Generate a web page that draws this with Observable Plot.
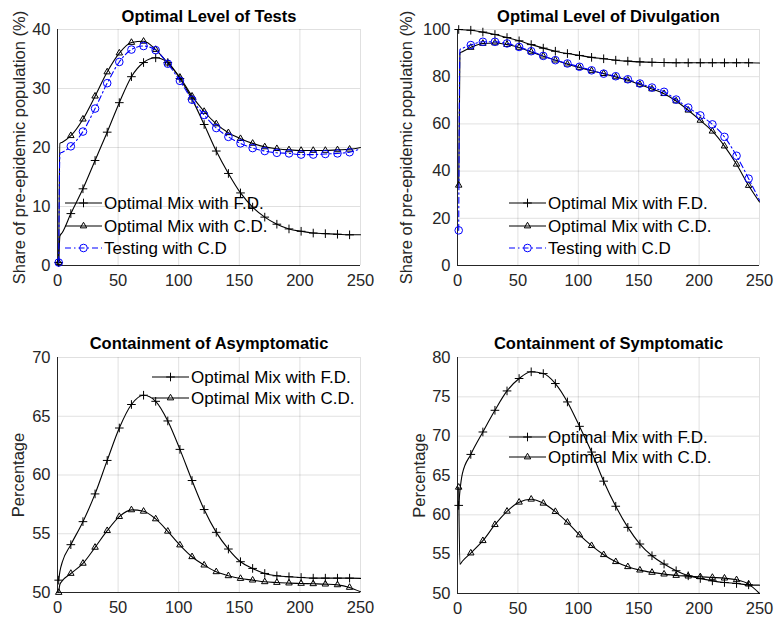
<!DOCTYPE html>
<html><head><meta charset="utf-8">
<script src="https://cdn.jsdelivr.net/npm/d3@7"></script>
<script src="https://cdn.jsdelivr.net/npm/@observablehq/plot@0.6"></script>
<style>
body{margin:0;background:#fff;}
#wrap{position:relative;width:774px;height:620px;font-family:"Liberation Sans",Arial,sans-serif;overflow:hidden;}
.panel{position:absolute;}
.row{position:absolute;white-space:nowrap;display:flex;align-items:center;height:20px;font-size:17px;color:#000;line-height:1;}
.row svg{display:block;overflow:visible;}
.row span{margin-left:2px;}
</style></head><body><div id="wrap"></div>
<script>
// ---- data ----
const lineDays = [1, 2, 4, 11, 21, 31, 41, 51, 61, 71, 81, 91, 101, 111, 121, 131, 141, 151, 161, 171, 181, 191, 201, 211, 221, 231, 241, 250];
const xTicks = [0, 50, 100, 150, 200, 250];

const testsFD = [0.5, 5.0, 5.6, 8.8, 13.0, 17.8, 22.6, 27.6, 32.0, 34.4, 35.2, 34.4, 31.7, 28.2, 23.9, 19.4, 15.6, 12.3, 9.9, 8.2, 7.0, 6.2, 5.8, 5.5, 5.4, 5.3, 5.2, 5.2];
const testsCD = [0.5, 20.7, 20.9, 22.0, 24.8, 28.7, 32.8, 36.0, 37.8, 38.0, 36.6, 34.3, 31.9, 28.7, 26.1, 24.0, 22.5, 21.5, 20.7, 20.1, 19.8, 19.6, 19.5, 19.5, 19.5, 19.6, 19.7, 20.0];
const testsT  = [0.5, 19.0, 19.2, 20.2, 22.7, 26.6, 30.9, 34.5, 36.6, 37.2, 36.5, 34.2, 31.3, 28.1, 25.5, 23.3, 21.8, 20.7, 19.9, 19.4, 19.1, 19.0, 18.8, 18.8, 18.9, 19.0, 19.2, 19.8];

const divFD = [100, 100, 99.9, 99.7, 98.9, 97.9, 96.6, 95.2, 93.6, 92.1, 90.8, 89.8, 89.0, 88.2, 87.6, 87.0, 86.6, 86.3, 86.1, 86.0, 85.9, 85.9, 85.9, 85.9, 85.9, 85.9, 85.9, 85.8];
const divCD = [34.0, 90.0, 90.6, 92.4, 94.1, 94.3, 93.6, 92.4, 90.5, 88.7, 87.0, 85.3, 83.9, 82.5, 81.3, 79.9, 78.5, 76.7, 74.8, 72.8, 69.7, 65.8, 61.5, 56.9, 50.6, 42.9, 33.9, 26.9];
const divT  = [14.9, 91.5, 92.0, 93.4, 94.8, 94.8, 94.1, 92.6, 90.8, 88.8, 87.0, 85.6, 84.2, 82.7, 81.3, 80.2, 78.9, 77.1, 75.4, 73.6, 70.3, 66.9, 63.6, 59.8, 54.5, 46.5, 36.8, 27.6];

const asyFD = [51.05, 51.8, 52.6, 54.07, 56.03, 58.39, 61.24, 64.0, 66.0, 66.79, 66.27, 64.6, 62.18, 59.53, 57.06, 55.12, 53.7, 52.62, 52.05, 51.62, 51.42, 51.34, 51.28, 51.22, 51.22, 51.22, 51.22, 51.2];
const asyCD = [50.0, 50.7, 51.0, 51.62, 52.48, 53.84, 55.26, 56.46, 57.03, 56.91, 56.26, 55.21, 54.04, 53.04, 52.33, 51.76, 51.42, 51.19, 51.05, 50.91, 50.85, 50.8, 50.77, 50.74, 50.71, 50.65, 50.43, 50.06];

const symFD = [61.2, 63.0, 65.2, 67.68, 70.53, 73.29, 75.75, 77.33, 78.18, 77.96, 76.69, 74.35, 71.25, 67.98, 64.28, 61.09, 58.41, 56.29, 54.8, 53.74, 52.89, 52.25, 51.91, 51.61, 51.4, 51.27, 51.1, 51.06];
const symCD = [63.5, 53.7, 54.1, 55.14, 56.71, 58.75, 60.45, 61.6, 61.98, 61.47, 60.41, 59.05, 57.44, 56.08, 54.93, 54.04, 53.4, 52.97, 52.68, 52.46, 52.29, 52.21, 52.12, 52.04, 51.95, 51.74, 51.19, 50.0];

const labelFD = "Optimal Mix with F.D.";
const labelCD = "Optimal Mix with C.D.";
const labelT = "Testing with C.D";

// ---- styles ----
const KINDS = {
  fd: {stroke: "#000", symbol: "plus", r: 2.9, dash: null},
  cd: {stroke: "#000", symbol: "triangle", r: 2.4, dash: null},
  t:  {stroke: "#0000ff", symbol: "circle", r: 3.8, dash: "6,3,1.5,3"}
};

function table(values) {
  return lineDays.map((d, i) => ({day: d, v: values[i]}));
}

function panel(cfg) {
  const [mt, mr, mb, ml] = cfg.margins;
  const marks = [
    Plot.gridX(xTicks, {stroke: "#000", strokeOpacity: 0.12, strokeWidth: 1}),
    Plot.gridY(cfg.yTicks, {stroke: "#000", strokeOpacity: 0.12, strokeWidth: 1}),
    Plot.ruleX([0], {stroke: "#262626", strokeWidth: 1}),
    Plot.ruleY([cfg.yDomain[0]], {stroke: "#262626", strokeWidth: 1}),
    Plot.axisX(xTicks, {tickSize: 0, tickPadding: 9, fontSize: 16.5, label: null, fill: "#262626"}),
    Plot.axisY(cfg.yTicks, {tickSize: 0, tickPadding: 7, fontSize: 16.5, fill: "#262626",
      label: cfg.ylabel, labelAnchor: "center", labelOffset: cfg.labelOffset, labelArrow: "none"})
  ];
  for (const s of cfg.series) {
    const k = KINDS[s.kind];
    const data = table(s.values);
    marks.push(Plot.line(data, {x: "day", y: "v", curve: "monotone-x", stroke: k.stroke, strokeWidth: 1.1, strokeDasharray: k.dash}));
    marks.push(Plot.dot(data.filter(d => d.day % 10 === 1), {x: "day", y: "v", symbol: k.symbol, r: k.r, stroke: k.stroke, strokeWidth: 1, fill: "none"}));
  }
  marks.push(Plot.text([cfg.title], {frameAnchor: "top", lineAnchor: "middle", dy: cfg.titleDy, fontWeight: "bold", fontSize: 16.5, fill: "#000"}));
  const svg = Plot.plot({
    width: cfg.width, height: cfg.height,
    marginTop: mt, marginRight: mr, marginBottom: mb, marginLeft: ml,
    x: {domain: [0, 250]},
    y: {domain: cfg.yDomain},
    style: {fontFamily: '"Liberation Sans", Arial, sans-serif', fontSize: "16px", color: "#262626", background: "transparent", overflow: "visible"},
    marks
  });
  const div = document.createElement("div");
  div.className = "panel";
  div.style.left = cfg.left + "px";
  div.style.top = cfg.top + "px";
  div.appendChild(svg);
  document.getElementById("wrap").appendChild(div);
}

function swatch(kind) {
  const k = KINDS[kind];
  const ns = "http://www.w3.org/2000/svg";
  const svg = document.createElementNS(ns, "svg");
  svg.setAttribute("width", 37); svg.setAttribute("height", 14);
  const line = document.createElementNS(ns, "line");
  line.setAttribute("x1", 0); line.setAttribute("x2", 37);
  line.setAttribute("y1", 7); line.setAttribute("y2", 7);
  line.setAttribute("stroke", k.stroke); line.setAttribute("stroke-width", 1.1);
  if (k.dash) line.setAttribute("stroke-dasharray", k.dash);
  svg.appendChild(line);
  const sym = document.createElementNS(ns, "path");
  const s = d3.symbol(kind === "fd" ? d3.symbolPlus : kind === "cd" ? d3.symbolTriangle : d3.symbolCircle, Math.PI * k.r * k.r)();
  sym.setAttribute("d", s);
  sym.setAttribute("transform", "translate(18.5,7)");
  sym.setAttribute("fill", "none"); sym.setAttribute("stroke", k.stroke); sym.setAttribute("stroke-width", 1);
  svg.appendChild(sym);
  return svg;
}

function legend(x, ys, items) {
  items.forEach((it, i) => {
    const row = document.createElement("div");
    row.className = "row";
    row.style.left = x + "px";
    row.style.top = (ys[i] - 10) + "px";
    row.appendChild(swatch(it.kind));
    const span = document.createElement("span");
    span.textContent = it.label;
    row.appendChild(span);
    document.getElementById("wrap").appendChild(row);
  });
}

panel({left: 0, top: 0, width: 387, height: 300, margins: [29, 27, 35, 57],
  yDomain: [0, 40], yTicks: [0, 10, 20, 30, 40], title: "Optimal Level of Tests", titleDy: -13,
  ylabel: "Share of pre-epidemic population (%)", labelOffset: 44,
  series: [{kind: "fd", values: testsFD}, {kind: "cd", values: testsCD}, {kind: "t", values: testsT}]});

panel({left: 387, top: 0, width: 387, height: 300, margins: [29, 15, 35, 70],
  yDomain: [0, 100], yTicks: [0, 20, 40, 60, 80, 100], title: "Optimal Level of Divulgation", titleDy: -13,
  ylabel: "Share of pre-epidemic population (%)", labelOffset: 57,
  series: [{kind: "fd", values: divFD}, {kind: "cd", values: divCD}, {kind: "t", values: divT}]});

panel({left: 0, top: 300, width: 387, height: 320, margins: [57, 27, 28, 57],
  yDomain: [50, 70], yTicks: [50, 55, 60, 65, 70], title: "Containment of Asymptomatic", titleDy: -14,
  ylabel: "Percentage", labelOffset: 45,
  series: [{kind: "fd", values: asyFD}, {kind: "cd", values: asyCD}]});

panel({left: 387, top: 300, width: 387, height: 320, margins: [57, 15, 27, 70],
  yDomain: [50, 80], yTicks: [50, 55, 60, 65, 70, 75, 80], title: "Containment of Symptomatic", titleDy: -14,
  ylabel: "Percentage", labelOffset: 44,
  series: [{kind: "fd", values: symFD}, {kind: "cd", values: symCD}]});

legend(65, [203, 226, 248], [{kind: "fd", label: labelFD}, {kind: "cd", label: labelCD}, {kind: "t", label: labelT}]);
legend(509, [203, 226, 248], [{kind: "fd", label: labelFD}, {kind: "cd", label: labelCD}, {kind: "t", label: labelT}]);
legend(152, [377, 398], [{kind: "fd", label: labelFD}, {kind: "cd", label: labelCD}]);
legend(509, [437, 457], [{kind: "fd", label: labelFD}, {kind: "cd", label: labelCD}]);
</script>
</body></html>
